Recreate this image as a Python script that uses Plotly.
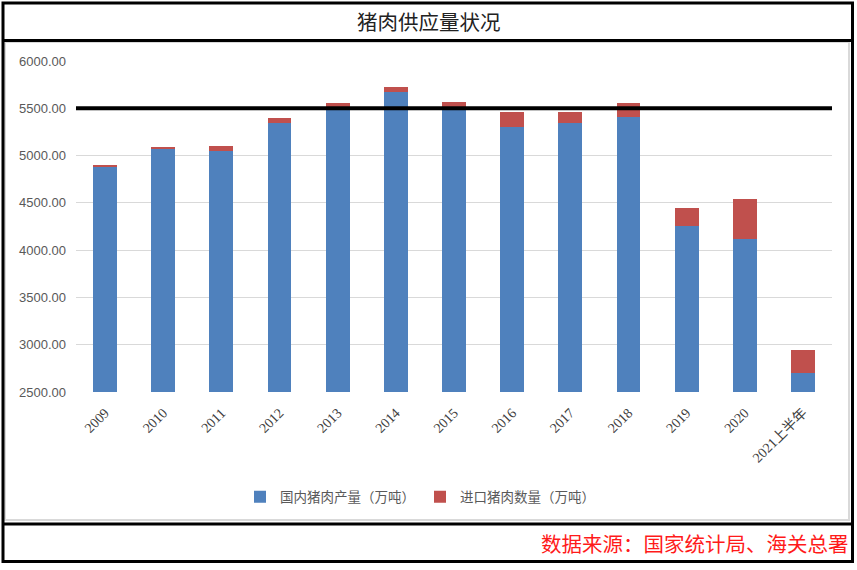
import plotly.graph_objects as go

categories = ["2009", "2010", "2011", "2012", "2013", "2014", "2015", "2016",
              "2017", "2018", "2019", "2020", "2021上半年"]
domestic = [4876, 5073, 5049, 5341, 5493, 5676, 5487, 5299, 5341, 5405, 4256, 4119, 2701]
imported = [25, 15, 52, 53, 60, 49, 76, 162, 120, 148, 193, 422, 239]
reference_level = 5500
y_ticks = [2500, 3000, 3500, 4000, 4500, 5000, 5500, 6000]

W, H = 857, 570
L, R, T, B = 76, 832, 61, 392

def px(x):
    return (x - L) / (R - L)

def py(y):
    return (B - y) / (B - T)

fig = go.Figure()
fig.add_trace(go.Bar(x=categories, y=domestic, name="国内猪肉产量（万吨）",
                     marker=dict(color="#4F81BD", line=dict(width=0))))
fig.add_trace(go.Bar(x=categories, y=imported, name="进口猪肉数量（万吨）",
                     marker=dict(color="#C0504D", line=dict(width=0))))

shapes = []
shapes.append(dict(type="line", xref="x domain", yref="y", x0=0, x1=1,
                   y0=reference_level, y1=reference_level,
                   line=dict(color="black", width=4)))
shapes.append(dict(type="rect", xref="paper", yref="paper",
                   x0=px(5), x1=px(849), y0=py(520), y1=py(42),
                   line=dict(color="#d9d9d9", width=2), layer="below"))
shapes.append(dict(type="rect", xref="paper", yref="paper",
                   x0=px(3), x1=px(852.5), y0=py(561.5), y1=py(3),
                   line=dict(color="black", width=3)))
shapes.append(dict(type="line", xref="paper", yref="paper",
                   x0=px(3), x1=px(852.5), y0=py(40.5), y1=py(40.5),
                   line=dict(color="black", width=3)))
shapes.append(dict(type="line", xref="paper", yref="paper",
                   x0=px(3), x1=px(852.5), y0=py(524), y1=py(524),
                   line=dict(color="black", width=3)))

annotations = [
    dict(text="猪肉供应量状况", xref="paper", yref="paper", x=px(429), y=py(21),
         showarrow=False, xanchor="center", yanchor="middle",
         font=dict(size=20.5, color="#222222", family="Noto Sans CJK SC")),
    dict(text="数据来源：国家统计局、海关总署", xref="paper", yref="paper",
         x=px(851), y=py(543), showarrow=False, xanchor="right", yanchor="middle",
         font=dict(size=20.5, color="#ff1a1a", family="Noto Sans CJK SC")),
]

fig.update_layout(
    width=W, height=H,
    margin=dict(l=L, r=W - R, t=T, b=H - B),
    barmode="stack",
    bargap=0.59,
    plot_bgcolor="white",
    paper_bgcolor="white",
    font=dict(family="Noto Sans CJK SC, Liberation Sans, sans-serif", color="#595959"),
    showlegend=True,
    legend=dict(orientation="h", x=px(420), y=py(497), xanchor="center", yanchor="middle",
                font=dict(size=13.5, color="#595959"), traceorder="normal",
                itemwidth=30),
    shapes=shapes,
    annotations=annotations,
)
fig.update_yaxes(range=[2500, 6000], tickvals=y_ticks, tickformat=".2f",
                 showgrid=True, gridcolor="#d9d9d9", gridwidth=1, zeroline=False,
                 showline=False, ticks="", ticklabelstandoff=9,
                 tickfont=dict(size=13, color="#595959", family="Liberation Sans"))
fig.update_xaxes(tickangle=-45, showgrid=False, showline=False, ticks="",
                 ticklabelstandoff=9,
                 tickfont=dict(size=14, color="#404040", family="Liberation Serif, Noto Sans CJK SC"))

fig.write_html("out.html", config={"displayModeBar": False},
               post_script="document.body.style.margin='0';document.body.style.overflow='hidden';")
